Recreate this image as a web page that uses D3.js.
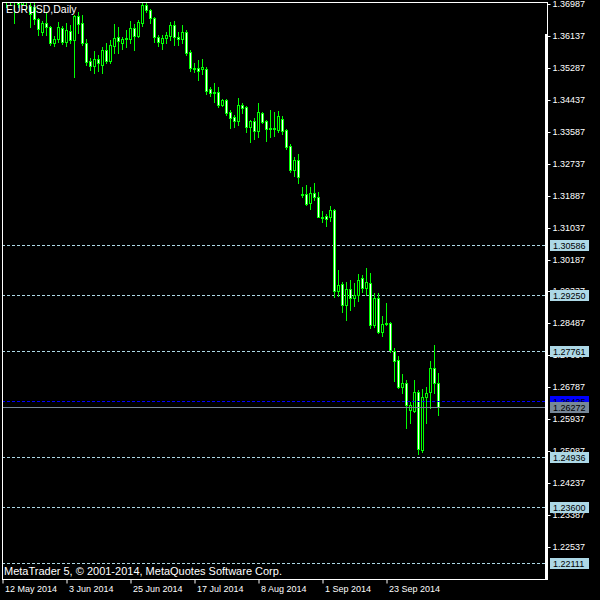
<!DOCTYPE html>
<html><head><meta charset="utf-8">
<script src="https://cdn.jsdelivr.net/npm/d3@7"></script>
<style>html,body{margin:0;padding:0;background:#000;} svg{display:block}</style>
</head><body>
<svg id="c" width="600" height="600"></svg>
<script>
const opens=[1.3757,1.3760,1.3707,1.3710,1.3710,1.3698,1.3711,1.3693,1.3691,1.3659,
1.3624,1.3648,1.3637,1.3595,1.3605,1.3635,1.3597,1.3627,1.3603,1.3667,
1.3648,1.3595,1.3547,1.3534,1.3552,1.3536,1.3576,1.3547,1.3587,1.3611,
1.3595,1.3605,1.3605,1.3635,1.3613,1.3648,1.3696,1.3683,1.3661,1.3611,
1.3595,1.3608,1.3613,1.3643,1.3611,1.3605,1.3624,1.3571,1.3528,1.3528,
1.3526,1.3526,1.3472,1.3464,1.3464,1.3430,1.3443,1.3411,1.3398,1.3387,
1.3430,1.3425,1.3371,1.3387,1.3361,1.3408,1.3387,1.3366,1.3369,1.3363,
1.3392,1.3363,1.3321,1.3257,1.3283,1.3193,1.3193,1.3169,1.3195,1.3185,
1.3132,1.3134,1.3132,1.3150,1.2934,1.2953,1.2897,1.2940,1.2916,1.2924,
1.2969,1.2942,1.2956,1.2844,1.2916,1.2825,1.2847,1.2849,1.2775,1.2751,
1.2679,1.2689,1.2618,1.2615,1.2666,1.2511,1.2652,1.2666,1.2729,1.2689];
const highs=[1.3772,1.3768,1.3733,1.3735,1.3720,1.3734,1.3733,1.3701,1.3709,1.3661,
1.3653,1.3675,1.3640,1.3613,1.3651,1.3640,1.3648,1.3643,1.3669,1.3677,
1.3669,1.3605,1.3555,1.3574,1.3563,1.3584,1.3595,1.3603,1.3645,1.3637,
1.3611,1.3629,1.3653,1.3645,1.3656,1.3704,1.3701,1.3685,1.3664,1.3616,
1.3616,1.3624,1.3651,1.3653,1.3624,1.3643,1.3629,1.3576,1.3542,1.3550,
1.3552,1.3531,1.3478,1.3488,1.3478,1.3446,1.3446,1.3417,1.3403,1.3448,
1.3435,1.3427,1.3390,1.3395,1.3435,1.3411,1.3390,1.3417,1.3411,1.3414,
1.3400,1.3366,1.3326,1.3291,1.3299,1.3211,1.3217,1.3211,1.3222,1.3198,
1.3148,1.3140,1.3161,1.3153,1.2991,1.2958,1.2958,1.2964,1.2956,1.2980,
1.2977,1.2996,1.2982,1.2929,1.2929,1.2868,1.2903,1.2852,1.2783,1.2761,
1.2713,1.2697,1.2639,1.2697,1.2671,1.2674,1.2679,1.2748,1.2791,1.2716];
const lows=[1.3732,1.3691,1.3696,1.3648,1.3691,1.3696,1.3685,1.3637,1.3645,1.3616,
1.3616,1.3616,1.3589,1.3587,1.3597,1.3592,1.3587,1.3595,1.3504,1.3621,
1.3589,1.3536,1.3523,1.3515,1.3520,1.3515,1.3542,1.3542,1.3568,1.3568,
1.3579,1.3584,1.3595,1.3576,1.3611,1.3640,1.3677,1.3648,1.3597,1.3587,
1.3579,1.3595,1.3603,1.3589,1.3589,1.3595,1.3563,1.3520,1.3518,1.3496,
1.3512,1.3459,1.3454,1.3438,1.3425,1.3427,1.3403,1.3369,1.3371,1.3377,
1.3408,1.3358,1.3331,1.3339,1.3345,1.3382,1.3334,1.3345,1.3347,1.3358,
1.3353,1.3313,1.3251,1.3240,1.3222,1.3185,1.3164,1.3153,1.3177,1.3132,
1.3118,1.3108,1.3121,1.2918,1.2921,1.2879,1.2857,1.2884,1.2894,1.2908,
1.2932,1.2924,1.2836,1.2839,1.2823,1.2815,1.2844,1.2772,1.2695,1.2676,
1.2663,1.2570,1.2583,1.2612,1.2500,1.2506,1.2583,1.2623,1.2663,1.2604];
const closes=[1.3760,1.3707,1.3710,1.3710,1.3698,1.3711,1.3704,1.3672,1.3659,1.3632,
1.3648,1.3637,1.3595,1.3605,1.3637,1.3597,1.3629,1.3603,1.3667,1.3645,
1.3595,1.3544,1.3534,1.3552,1.3542,1.3576,1.3547,1.3589,1.3608,1.3600,
1.3605,1.3608,1.3635,1.3613,1.3651,1.3696,1.3683,1.3661,1.3611,1.3597,
1.3608,1.3616,1.3643,1.3611,1.3605,1.3624,1.3568,1.3528,1.3526,1.3520,
1.3531,1.3467,1.3462,1.3462,1.3430,1.3443,1.3408,1.3395,1.3387,1.3430,
1.3422,1.3371,1.3387,1.3361,1.3411,1.3384,1.3366,1.3369,1.3366,1.3400,
1.3361,1.3318,1.3257,1.3283,1.3238,1.3191,1.3166,1.3195,1.3185,1.3132,
1.3130,1.3126,1.3150,1.2934,1.2950,1.2897,1.2940,1.2916,1.2924,1.2964,
1.2942,1.2958,1.2844,1.2916,1.2825,1.2847,1.2849,1.2777,1.2748,1.2679,
1.2689,1.2631,1.2631,1.2666,1.2514,1.2652,1.2663,1.2729,1.2689,1.2627];

const priceTicks=[1.36987,1.36137,1.35287,1.34437,1.33587,1.32737,1.31887,1.31037,1.30187,
1.29337,1.28487,1.27637,1.26787,1.25937,1.25087,1.24237,1.23387,1.22537];
const levelLines=[1.30586,1.29250,1.27761,1.24936,1.23600,1.22111];
const askLevel=1.26425;
const bidLevel=1.26272;
const dateLabels=["12 May 2014","3 Jun 2014","25 Jun 2014","17 Jul 2014","8 Aug 2014","1 Sep 2014","23 Sep 2014"];
const dateBars=[0,16,32,48,64,80,96];
const title="EURUSD,Daily";
const copyright="MetaTrader 5, \u00A9 2001-2014, MetaQuotes Software Corp.";

const FONT="'Liberation Sans', Arial, sans-serif";
const GREEN="#00ff00";
const L=2,T=2,R=547,B=579;
const svg=d3.select("#c");
svg.append("rect").attr("width",600).attr("height",600).attr("fill","#000");

const x=d3.scaleLinear().domain([0,136]).range([2.5,546.5]);
const y=d3.scaleLinear().domain([1.36987,1.22537]).range([4,547]);
const py=v=>Math.round(y(v))+0.5;

const data=opens.map((o,i)=>({i,o,h:highs[i],l:lows[i],c:closes[i]}));

svg.append("clipPath").attr("id","plot").append("rect")
  .attr("x",L).attr("y",T).attr("width",R-L).attr("height",B-T);
const plot=svg.append("g").attr("clip-path","url(#plot)");

// level lines
plot.selectAll("line.lvl").data(levelLines).join("line").attr("class","lvl")
  .attr("x1",L).attr("x2",R).attr("y1",d=>py(d)).attr("y2",d=>py(d))
  .attr("stroke","#add8e6").attr("stroke-width",1).attr("stroke-dasharray","3,2");

// candles
const cg=plot.append("g");
cg.selectAll("line.wick").data(data).join("line").attr("class","wick")
  .attr("x1",d=>x(d.i)).attr("x2",d=>x(d.i))
  .attr("y1",d=>Math.round(y(d.h))).attr("y2",d=>Math.round(y(d.l))+1)
  .attr("stroke",GREEN).attr("stroke-width",1);
cg.selectAll("rect.body").data(data).join("rect").attr("class","body")
  .attr("x",d=>x(d.i)-1).attr("width",2)
  .attr("y",d=>py(Math.max(d.o,d.c)))
  .attr("height",d=>Math.max(0,Math.round(y(Math.min(d.o,d.c)))-Math.round(y(Math.max(d.o,d.c)))))
  .attr("fill",d=>d.c<d.o?"#ffffff":"#000000")
  .attr("stroke",GREEN).attr("stroke-width",1);

// ask / bid lines
plot.append("line").attr("x1",L).attr("x2",R).attr("y1",py(bidLevel)).attr("y2",py(bidLevel))
  .attr("stroke","#778899").attr("stroke-width",1);
plot.append("line").attr("x1",L).attr("x2",R).attr("y1",py(askLevel)).attr("y2",py(askLevel))
  .attr("stroke","#0000ff").attr("stroke-width",1).attr("stroke-dasharray","3,2");

// frame
const frame=svg.append("g").attr("stroke","#fff").attr("stroke-width",1);
frame.append("line").attr("x1",L+0.5).attr("x2",L+0.5).attr("y1",T).attr("y2",B+1);
frame.append("line").attr("x1",L).attr("x2",R+1).attr("y1",T+0.5).attr("y2",T+0.5);
frame.append("line").attr("x1",L).attr("x2",R+1).attr("y1",B+0.5).attr("y2",B+0.5);
frame.append("line").attr("x1",R+0.5).attr("x2",R+0.5).attr("y1",T).attr("y2",B+1);
svg.append("rect").attr("x",R-2).attr("y",34).attr("width",3).attr("height",B-34+1).attr("fill","#fff");

// y axis
const yAxis=svg.append("g").attr("transform",`translate(${R+0.5},0)`)
  .call(d3.axisRight(y).tickValues(priceTicks).tickSize(3).tickPadding(2).tickFormat(d3.format(".5f")));
yAxis.select(".domain").remove();
yAxis.selectAll(".tick").attr("transform",d=>`translate(0,${py(d)})`);
yAxis.selectAll("line").attr("stroke","#fff");
yAxis.selectAll("text").attr("fill","#fff").attr("font-family",FONT).attr("font-size","9px");

// x axis
const xAxis=svg.append("g").attr("transform",`translate(0,${B+0.5})`)
  .call(d3.axisBottom(x).tickValues(dateBars).tickSize(4).tickPadding(2).tickFormat((d,i)=>dateLabels[i]));
xAxis.select(".domain").remove();
xAxis.selectAll("line").attr("stroke","#fff");
xAxis.selectAll("text").attr("fill","#fff").attr("font-family",FONT).attr("font-size","9px")
  .attr("text-anchor","start").attr("dx","2px");

// level labels
const labels=levelLines.map(v=>({v,bg:"#add8e6"})).concat([{v:askLevel,bg:"#0000ff"},{v:bidLevel,bg:"#778899"}]);
const lg=svg.append("g");
labels.forEach(d=>{
  const yy=Math.round(y(d.v));
  lg.append("rect").attr("x",550).attr("y",yy-5).attr("width",39).attr("height",11).attr("fill",d.bg);
  lg.append("text").attr("x",553).attr("y",yy+0.5).attr("dy","0.35em")
    .attr("font-family",FONT).attr("font-size","9px").attr("fill","#000").text(d3.format(".5f")(d.v));
});

// texts
svg.append("text").attr("x",6).attr("y",13).attr("font-family",FONT).attr("font-size","10.5px")
  .attr("fill","#fff").text(title);
svg.append("text").attr("x",4).attr("y",575).attr("font-family",FONT).attr("font-size","11px")
  .attr("fill","#fff").text(copyright);
</script>
</body></html>
